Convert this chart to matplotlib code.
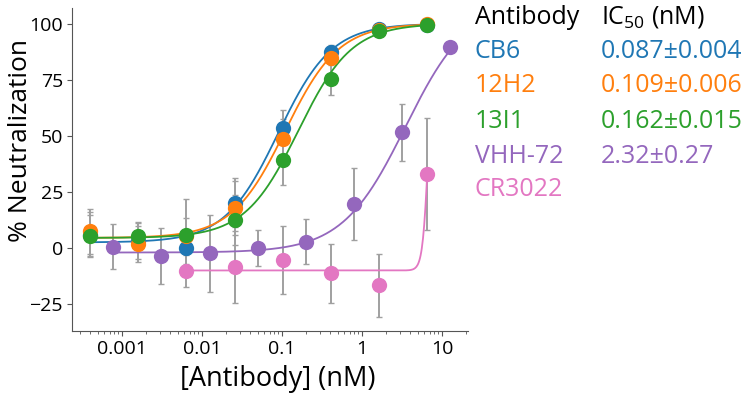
import numpy as np
import matplotlib
matplotlib.use("Agg")
import matplotlib.pyplot as plt

plt.rcParams['font.family'] = ['Open Sans', 'DejaVu Sans']
plt.rcParams['mathtext.fontset'] = 'custom'
plt.rcParams['mathtext.rm'] = 'Open Sans'

# concentrations (nM), 4-fold dilutions
conc_a = [0.0004, 0.0016, 0.0064, 0.0256, 0.1024, 0.4096, 1.6384, 6.5536]
conc_vhh = [0.00078, 0.0031, 0.0125, 0.05, 0.2, 0.8, 3.2, 12.8]
conc_cr = [0.0064, 0.0256, 0.1024, 0.4096, 1.6384, 6.5536]

cb6 = [6.0, 3.0, 0.0, 20.2, 53.7, 87.4, 97.8, 99.6]
cb6_err = [10, 8, 7, 11, 8, 3, 1, 0.5]
h12 = [7.5, 1.8, 5.5, 17.7, 48.5, 84.7, 97.0, 100.0]
h12_err = [10, 8, 8, 12, 9, 3, 1, 0.5]
i13 = [5.5, 5.4, 5.8, 12.5, 39.3, 75.3, 96.6, 99.5]
i13_err = [9, 6, 16, 11, 11, 7, 1, 0.5]
vhh = [0.6, -3.6, -2.4, 0.1, 2.8, 19.6, 51.5, 89.6]
vhh_err = [10, 12.5, 17, 8, 10, 16, 12.7, 2]
cr = [-10.3, -8.6, -5.4, -11.3, -16.6, 33.0]
cr_err = [7, 16, 15, 13, 14, 25]

names = ['CB6', '12H2', '13I1', 'VHH-72', 'CR3022']
ic50_labels = ['0.087\u00b10.004', '0.109\u00b10.006', '0.162\u00b10.015', '2.32\u00b10.27', '']
colors = ['#1f77b4', '#ff7f0e', '#2ca02c', '#9467bd', '#e377c2']

# fitted curve parameters: bottom, top, ic50, hill
fit_bottom = [2.5, 4.5, 4.5, -2.0, -10.0]
fit_top = [100, 100, 100, 110, 100]
fit_ic50 = [0.09, 0.11, 0.16, 3.5, 6.8]
fit_hill = [1.3, 1.3, 1.3, 1.1, 12]

series = [(conc_a, cb6, cb6_err), (conc_a, h12, h12_err), (conc_a, i13, i13_err),
          (conc_vhh, vhh, vhh_err), (conc_cr, cr, cr_err)]

fig = plt.figure(figsize=(7.52, 3.96), dpi=100)
ax = fig.add_axes([0.0957, 0.164, 0.5265, 0.816])

for i, (x, y, e) in enumerate(series):
    xs = np.logspace(np.log10(x[0]), np.log10(x[-1]), 400)
    ys = fit_bottom[i] + (fit_top[i] - fit_bottom[i]) / (1 + (fit_ic50[i] / xs) ** fit_hill[i])
    ax.errorbar(x, y, yerr=e, fmt='none', ecolor='#a0a0a0', elinewidth=1.4,
                capsize=2, capthick=1, zorder=1)
    ax.plot(xs, ys, color=colors[i], lw=1.3, zorder=2)
    ax.plot(x, y, 'o', color=colors[i], ms=11, mec='none', zorder=3 + i * 0.1)

ax.set_xscale('log')
ax.set_xlim(10 ** -3.625, 10 ** 1.325)
ax.set_ylim(-37, 107)
ax.set_yticks([-25, 0, 25, 50, 75, 100])
ax.set_yticklabels(['\u221225', '0', '25', '50', '75', '100'])
ax.set_xticks([0.001, 0.01, 0.1, 1, 10])
ax.set_xticklabels(['0.001', '0.01', '0.1', '1', '10'])
for s in ['top', 'right']:
    ax.spines[s].set_visible(False)
for s in ['left', 'bottom']:
    ax.spines[s].set_color('#555555')
ax.tick_params(axis='both', labelsize=14, color='#555555', pad=3)
ax.tick_params(axis='x', which='minor', color='#555555')
ax.set_xlabel('[Antibody] (nM)', fontsize=19.5)
ax.set_ylabel('% Neutralization', fontsize=19)
ax.xaxis.set_label_coords(0.521, -0.106)
ax.yaxis.set_label_coords(-0.098, 0.59)

# legend table
fig.text(0.631, 0.957, 'Antibody', fontsize=18, va='center', ha='left')
fig.text(0.799, 0.957, 'IC$_{50}$ (nM)', fontsize=18, va='center', ha='left')
row_y = [0.869, 0.783, 0.694, 0.606, 0.522]
for i in range(5):
    fig.text(0.631, row_y[i], names[i], fontsize=18, color=colors[i], va='center', ha='left')
    fig.text(0.799, row_y[i], ic50_labels[i], fontsize=18, color=colors[i], va='center', ha='left')

fig.savefig('out.png', dpi=100)
